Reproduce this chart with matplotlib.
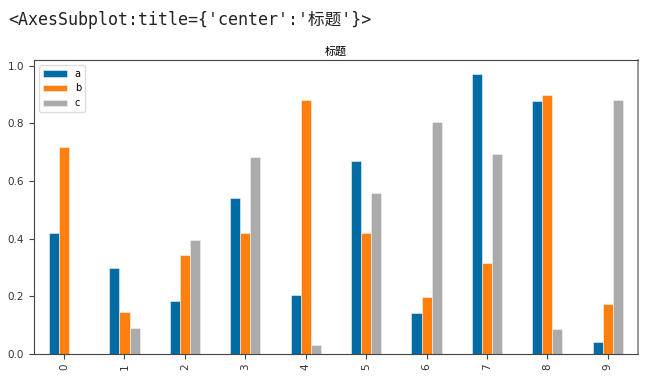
import matplotlib
matplotlib.use("Agg")
import matplotlib.pyplot as plt
import pandas as pd

# values
index = list(range(10))
a = [0.42, 0.30, 0.185, 0.54, 0.205, 0.67, 0.142, 0.972, 0.878, 0.042]
b = [0.72, 0.145, 0.345, 0.42, 0.88, 0.42, 0.198, 0.316, 0.899, 0.174]
c = [0.0, 0.09, 0.395, 0.685, 0.03, 0.56, 0.804, 0.694, 0.087, 0.883]
colors = ["#006BA4", "#FF800E", "#ABABAB"]

plt.rcParams['font.family'] = ['DejaVu Sans', 'Noto Sans CJK SC']

df = pd.DataFrame({"a": a, "b": b, "c": c}, index=index)

fig = plt.figure(figsize=(6.51, 3.79), dpi=100)
ax = fig.add_axes([0.052, 0.066, 0.928, 0.776])

df.plot(kind="bar", ax=ax, color=colors, edgecolor="#f4f4f4", linewidth=0.4)
ax.set_title("标题", fontsize=8, pad=4)
ax.tick_params(labelsize=7.5, length=3.5, color="#444444", labelcolor="#333333")
for s in ax.spines.values():
    s.set_color("#444444")
ax.spines["right"].set_color("#888888")
ax.spines["right"].set_linewidth(1.2)
ax.legend(loc="upper left", fontsize=7, handlelength=2.5, framealpha=1,
          edgecolor="#dddddd")

# jupyter style repr line on top
fig.text(0.012, 0.947, "<AxesSubplot:title={'center':'标题'}>", fontsize=12,
         family=['DejaVu Sans Mono', 'Noto Sans CJK SC'], color="#222222",
         va="center")

fig.savefig("out.png", dpi=100)
